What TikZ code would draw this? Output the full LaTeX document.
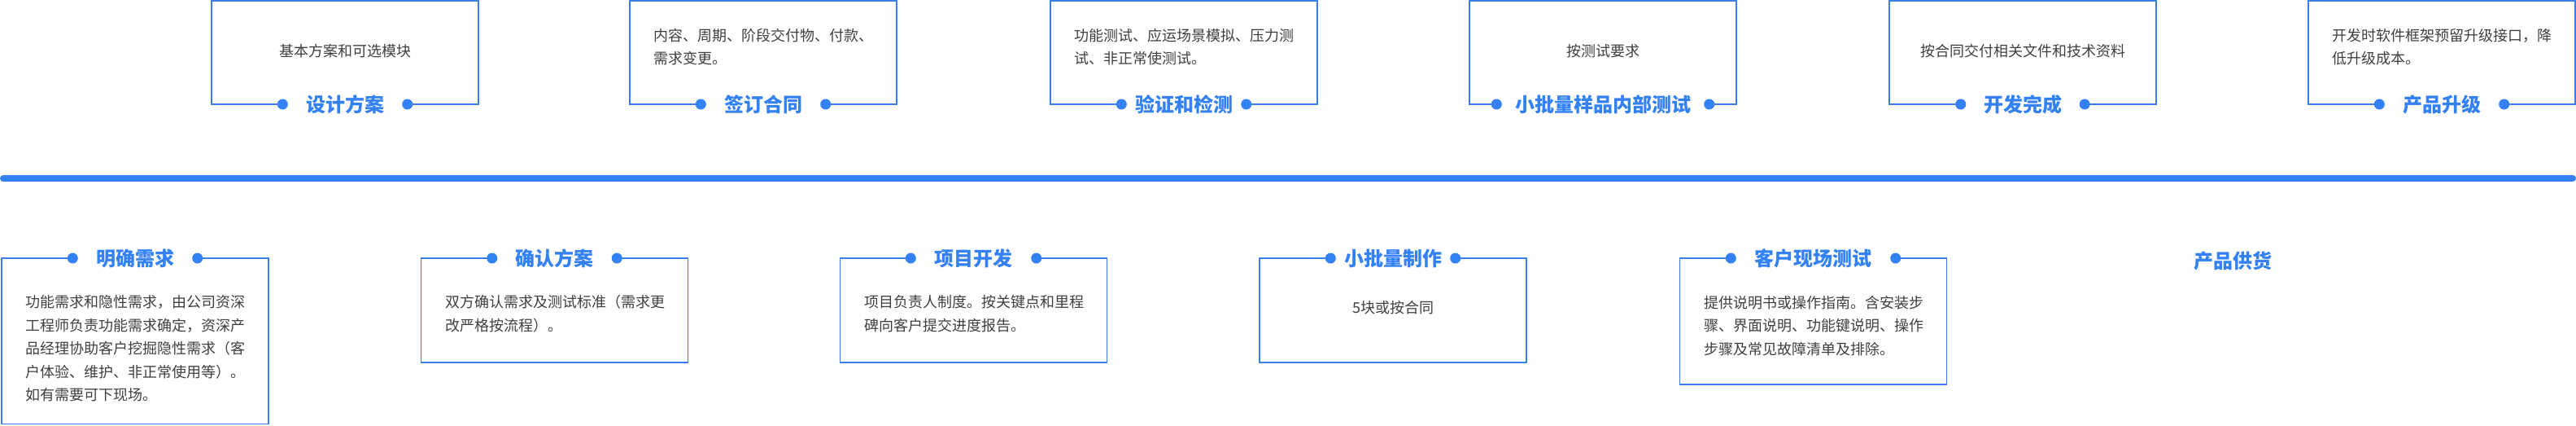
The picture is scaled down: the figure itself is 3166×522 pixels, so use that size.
\documentclass[tikz,border=0pt]{standalone}
\usepackage{fontspec}
\usepackage{xcolor}
\usepackage{tikz}
\usetikzlibrary{positioning,calc}
\setmainfont{Noto Sans CJK SC}
\definecolor{pblue}{HTML}{3381F2}
\definecolor{pframe}{HTML}{3A7FE8}
\definecolor{ptext}{HTML}{3F3F3F}

\begin{document}
\begin{tikzpicture}[x=1pt,y=-1pt,
  every node/.style={inner sep=0pt},
  body/.style={font=\fontsize{18}{28.5}\selectfont,text=ptext,align=left},
  title/.style={font=\fontsize{24}{28}\selectfont\bfseries,text=pblue},
  frame/.style={pframe,line width=1.5pt}]
  \useasboundingbox (0,0) rectangle (3166,522);

  % time line
  \draw[pblue,line width=8pt,line cap=round] (4,219) -- (3162,219);

  % upper row: centre / title / dot span / text anchor / text x / text y / words
  \foreach \i/\cx/\ttl/\gap/\al/\tx/\ty/\txt in {
    1/424/设计方案/153/center/424/63/{基本方案和可选模块},
    2/938/签订合同/153/west/803/57.5/{内容、周期、阶段交付物、付款、\\需求变更。},
    3/1455/验证和检测/153/west/1320/57.5/{功能测试、应运场景模拟、压力测\\试、非正常使测试。},
    4/1970/小批量样品内部测试/261/center/1970/63/{按测试要求},
    5/2486/开发完成/152/center/2486/63/{按合同交付相关文件和技术资料},
    6/3001/产品升级/153/west/2866/57.5/{开发时软件框架预留升级接口，降\\低升级成本。}} {
    \node[title,minimum width=\gap pt] (ut\i) at (\cx,128) {\ttl};
    \node[body,anchor=\al] (ux\i) at (\tx,\ty) {\txt};
    \draw[frame] (ut\i.west) -| (\cx-164,1) -| (\cx+164,128) -- (ut\i.east);
    \fill[pblue] (ut\i.west) circle (6.5) (ut\i.east) circle (6.5);
  }

  % lower row
  \foreach \i/\cx/\ttl/\gap/\al/\tx/\ty/\bot/\txt in {
    1/166/明确需求/153/west/31/428/520.5/{功能需求和隐性需求，由公司资深\\工程师负责功能需求确定，资深产\\品经理协助客户挖掘隐性需求（客\\户体验、维护、非正常使用等）。\\如有需要可下现场。},
    2/681.5/确认方案/153/west/547/385/445/{双方确认需求及测试标准（需求更\\改严格按流程）。},
    3/1196.5/项目开发/154/west/1062/385/445/{项目负责人制度。按关键点和里程\\碑向客户提交进度报告。},
    4/1712/小批量制作/153/center/1712/378/445/{5块或按合同},
    5/2228.5/客户现场测试/202/west/2094/400/472/{提供说明书或操作指南。含安装步\\骤、界面说明、功能键说明、操作\\步骤及常见故障清单及排除。}} {
    \node[title,minimum width=\gap pt] (lt\i) at (\cx,317) {\ttl};
    \node[body,anchor=\al] (lx\i) at (\tx,\ty) {\txt};
    \draw[frame] (lt\i.west) -| (\cx-164,\bot) -| (\cx+164,317) -- (lt\i.east);
    \fill[pblue] (lt\i.west) circle (6.5) (lt\i.east) circle (6.5);
  }
  \node[title] (supply) at (2744,320) {产品供货};
\end{tikzpicture}
\end{document}
